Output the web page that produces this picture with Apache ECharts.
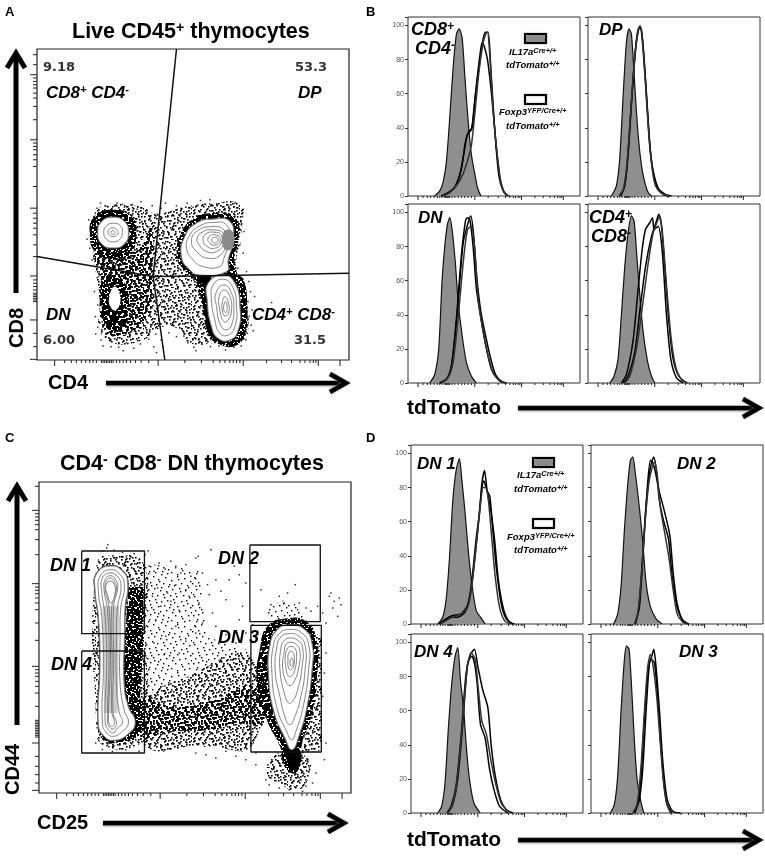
<!DOCTYPE html>
<html>
<head>
<meta charset="utf-8">
<title>Thymocyte tdTomato</title>
<style>html,body{margin:0;padding:0;background:#fff}#main{width:765px;height:856px}</style>
<script src="https://cdn.jsdelivr.net/npm/echarts@6/dist/echarts.min.js"></script>
</head>
<body>
<div id="main"></div>
<script>
// tick positions, channel units
var dotXMajor = [53, 363, 618, 843, 908];
var dotXMinor = [83, 103, 118, 133, 146, 158, 168, 178, 193, 198, 203, 208, 213, 218, 223, 228, 238, 248, 258, 268, 280, 295, 312, 335, 443, 493, 528, 548, 563, 578, 588, 598, 608, 688, 733, 763, 788, 803, 818, 828, 836];
var aYMajor = [855, 660, 455, 252, 120, 2];
var aYMinor = [915, 885, 845, 835, 825, 815, 800, 785, 760, 720, 650, 640, 630, 615, 600, 580, 520, 440, 425, 410, 395, 375, 345, 310, 240, 230, 220, 210, 200, 195, 190, 185, 180, 175, 80, 40];
var cYMajor = [848, 628, 380, 150, 8];
var cYMinor = [920, 838, 828, 818, 805, 790, 760, 715, 618, 608, 598, 585, 570, 550, 510, 458, 370, 360, 350, 335, 320, 300, 260, 218, 213, 208, 203, 198, 193, 188, 183, 178, 173, 168, 110, 80, 55, 30];
var histXMajor = [30, 200, 340, 465];
var histXMinor = [45, 58, 68, 78, 88, 95, 102, 110, 113, 116, 119, 122, 125, 132, 140, 150, 160, 170, 180, 190, 240, 270, 292, 305, 315, 322, 330, 335, 380, 405, 425, 438, 448, 455, 460];

// panel A, CD4 against CD8
var aGateV = [[418, 932], [348, 250], [383, 0]];
var aGateH = [[0, 310], [348, 250], [478, 252], [935, 260]];
var aCloudMid = [[173, 440], [228, 465], [308, 460], [358, 440], [448, 460], [528, 470], [608, 465], [613, 380], [598, 280], [623, 200], [633, 90], [608, 50], [528, 50], [458, 50], [428, 90], [378, 100], [318, 60], [228, 50], [188, 90], [188, 180], [178, 250], [168, 340]];
var aCloudLeft = [[175, 320], [300, 330], [340, 400], [345, 250], [330, 130], [240, 70], [195, 110], [190, 250]];
var aCloudDark = [[228, 450], [283, 430], [298, 380], [278, 320], [228, 305], [178, 320], [158, 380], [173, 430]];
var aCloudDark2 = [[233, 255], [268, 220], [273, 160], [253, 95], [218, 95], [193, 160], [193, 220]];
var aHalo = [[528, 440], [590, 430], [605, 370], [590, 300], [600, 260], [620, 240], [630, 160], [625, 90], [600, 45], [540, 50], [510, 90], [490, 190], [470, 245], [445, 265], [420, 310], [430, 375], [470, 425]];
var aNeck = [[430, 300], [480, 250], [505, 190], [510, 90], [540, 60], [530, 120], [520, 240], [470, 270]];
var aHoleDN = [[233, 220], [250, 185], [238, 150], [223, 155], [216, 185]];
var aCD8Rings = [
  [[228, 428], [262, 415], [274, 382], [262, 348], [228, 336], [194, 348], [182, 382], [194, 415]],
  [[228, 410], [250, 402], [256, 382], [248, 362], [228, 354], [208, 362], [200, 382], [208, 402]],
  [[228, 396], [240, 390], [243, 382], [238, 373], [226, 370], [216, 375], [213, 384], [218, 393]],
  [[228, 388], [234, 384], [232, 378], [224, 378], [221, 383]]
];
var aDPRings = [
  [[528, 422], [578, 415], [588, 360], [573, 300], [568, 265], [488, 255], [458, 270], [433, 310], [443, 370], [478, 410]],
  [[526, 412], [568, 405], [576, 360], [560, 305], [548, 280], [498, 280], [468, 300], [448, 335], [458, 375], [488, 402]],
  [[524, 400], [560, 390], [568, 355], [550, 315], [513, 305], [478, 325], [463, 355], [478, 385]],
  [[526, 390], [558, 380], [560, 350], [538, 325], [508, 325], [486, 345], [480, 365], [498, 385]],
  [[530, 383], [552, 375], [552, 350], [533, 335], [510, 340], [498, 358], [506, 378]],
  [[533, 375], [548, 368], [546, 352], [532, 344], [518, 350], [512, 362], [520, 373]],
  [[536, 368], [543, 362], [538, 352], [528, 352], [523, 362]]
];
var aCD4Rings = [
  [[558, 255], [593, 230], [608, 160], [603, 90], [578, 60], [543, 65], [523, 100], [510, 180], [513, 230]],
  [[558, 242], [586, 220], [598, 160], [593, 100], [573, 75], [548, 80], [533, 120], [523, 180], [528, 225]],
  [[560, 225], [583, 200], [590, 155], [583, 105], [568, 90], [550, 105], [538, 160], [536, 200]],
  [[561, 210], [578, 190], [583, 150], [573, 120], [560, 115], [548, 150], [546, 190]],
  [[563, 190], [574, 170], [574, 140], [563, 132], [555, 150], [556, 175]],
  [[565, 175], [570, 155], [565, 142], [559, 155]]
];
var aDPPatch = [[560, 385], [586, 385], [586, 335], [560, 335]];
var aDots = [[172, 430], [180, 455], [190, 470], [204, 462], [215, 448], [240, 470], [262, 458], [285, 466], [300, 452], [312, 474], [330, 448], [345, 462], [372, 455], [385, 470], [400, 444], [418, 462], [432, 450], [450, 470], [468, 458], [490, 478], [505, 466], [518, 480], [540, 462], [560, 472], [575, 460], [592, 470], [606, 462], [618, 452], [616, 430], [612, 405], [620, 385], [608, 345], [618, 320], [602, 275], [628, 265], [635, 235], [640, 205], [632, 175], [645, 150], [636, 130], [642, 105], [630, 80], [626, 60], [612, 42], [590, 38], [565, 30], [545, 42], [520, 40], [495, 48], [470, 38], [452, 52], [440, 72], [418, 70], [395, 82], [372, 60], [350, 40], [335, 62], [310, 48], [290, 35], [268, 52], [245, 38], [222, 40], [205, 68], [192, 60], [182, 98], [175, 130], [182, 165], [172, 205], [184, 250], [165, 300], [158, 335], [150, 362], [165, 408], [155, 420], [703, 172], [648, 88], [652, 190], [176, 78], [198, 42], [258, 28], [358, 22], [378, 40], [476, 28], [356, 78], [330, 84]];

// panel C, CD25 against CD44
var cGates = [
  [[128, 726], [316, 726], [316, 478], [128, 478], [128, 726]],
  [[128, 426], [316, 426], [316, 120], [128, 120], [128, 426]],
  [[632, 744], [843, 744], [843, 514], [632, 514], [632, 744]],
  [[635, 503], [846, 503], [846, 123], [635, 123], [635, 503]]
];
var cCloudLight = [[323, 688], [483, 668], [503, 468], [633, 428], [633, 138], [313, 138], [313, 688]];
var cCloudLight2 = [[713, 118], [803, 108], [808, 48], [773, 8], [723, 28], [683, 58]];
var cCloudLight3 = [[683, 528], [743, 578], [803, 518], [833, 498]];
var cCloudLight4 = [[813, 488], [848, 468], [848, 128], [783, 118], [833, 348]];
var cCloudMid = [[313, 268], [443, 348], [633, 408], [643, 148], [483, 143], [323, 138]];
var cCloudMid2 = [[173, 688], [233, 713], [313, 688], [320, 488], [320, 188], [283, 138], [193, 143], [173, 188]];
var cCloudDark = [[313, 288], [403, 258], [523, 278], [643, 318], [673, 208], [603, 208], [503, 188], [383, 183], [313, 168]];
var cCloudDark2 = [[268, 618], [313, 618], [313, 468], [303, 288], [323, 198], [283, 158], [213, 148], [183, 168], [263, 208], [253, 388]];
var cCloudDark3 = [[683, 498], [733, 523], [803, 513], [833, 448], [833, 348], [818, 238], [788, 148], [783, 88], [763, 58], [733, 88], [723, 138], [683, 218], [653, 328], [663, 438]];
var cSolid = [[738, 133], [778, 133], [783, 88], [763, 68], [743, 98]];
var cColumnRings = [
  [[213, 681], [253, 663], [266, 623], [258, 558], [256, 468], [255, 328], [268, 258], [288, 213], [268, 178], [223, 158], [193, 173], [178, 208], [183, 388], [178, 528], [168, 608], [173, 658]],
  [[213, 670], [243, 655], [256, 620], [245, 555], [243, 460], [243, 330], [255, 250], [268, 210], [250, 185], [223, 170], [203, 180], [190, 210], [193, 388], [188, 530], [178, 605], [183, 650]],
  [[213, 660], [236, 648], [246, 620], [235, 555], [232, 460], [232, 330], [240, 245], [250, 210], [235, 195], [222, 180], [208, 190], [198, 215], [203, 390], [198, 530], [188, 605], [190, 645]],
  [[213, 652], [230, 640], [236, 615], [224, 560], [224, 400], [222, 240], [232, 210], [222, 192], [210, 200], [205, 220], [210, 400], [205, 550], [195, 610], [198, 640]],
  [[213, 645], [226, 635], [232, 612], [218, 555], [219, 400], [218, 245], [226, 212], [220, 200], [212, 205], [208, 225], [214, 400], [210, 555], [198, 612], [202, 635]]
];
var cColumnFill = [[190, 560], [240, 560], [236, 240], [196, 240]];
var cColumnHole = [[213, 636], [226, 625], [228, 600], [216, 570], [205, 595], [200, 620]];
var cDN3Rings = [
  [[743, 503], [793, 493], [818, 448], [818, 368], [803, 258], [778, 168], [758, 130], [738, 163], [703, 248], [688, 358], [693, 448], [713, 488]],
  [[745, 490], [785, 482], [808, 445], [808, 370], [793, 265], [770, 185], [757, 160], [742, 185], [713, 255], [698, 360], [703, 445], [720, 478]],
  [[748, 478], [780, 470], [798, 440], [798, 375], [785, 290], [765, 225], [752, 205], [738, 225], [722, 290], [708, 365], [713, 440], [725, 468]],
  [[750, 465], [775, 458], [790, 435], [788, 375], [775, 310], [760, 275], [748, 270], [735, 300], [722, 370], [725, 435], [733, 455]],
  [[752, 452], [772, 445], [782, 425], [778, 375], [765, 335], [752, 322], [740, 335], [730, 380], [735, 425], [740, 445]],
  [[754, 440], [768, 432], [772, 410], [768, 375], [758, 352], [748, 350], [740, 375], [738, 410], [744, 432]],
  [[756, 425], [764, 415], [764, 385], [756, 370], [748, 375], [746, 400], [748, 420]],
  [[758, 405], [762, 390], [756, 380], [752, 392]]
];
var cDots = [[206, 745], [203, 735], [190, 725], [225, 728], [250, 722], [262, 708], [285, 718], [300, 700], [318, 715], [327, 727], [330, 680], [345, 665], [360, 690], [378, 672], [395, 695], [410, 680], [425, 660], [440, 685], [455, 650], [470, 705], [477, 710], [515, 730], [490, 660], [530, 640], [505, 625], [470, 620], [440, 610], [410, 625], [385, 600], [355, 615], [340, 590], [365, 560], [395, 575], [420, 548], [450, 590], [480, 570], [510, 595], [545, 605], [570, 640], [585, 680], [600, 655], [620, 630], [560, 580], [520, 540], [490, 510], [530, 500], [560, 475], [600, 520], [590, 450], [620, 480], [610, 560], [640, 505], [665, 610], [695, 565], [720, 590], [735, 570], [745, 600], [768, 625], [780, 570], [800, 555], [815, 545], [835, 560], [870, 590], [875, 600], [885, 575], [900, 585], [905, 565], [880, 555], [850, 540], [860, 510], [895, 530], [840, 440], [860, 420], [855, 360], [850, 290], [845, 220], [860, 150], [855, 100], [650, 120], [620, 100], [590, 110], [560, 125], [530, 105], [500, 115], [470, 120], [650, 85], [680, 40], [700, 70], [720, 15], [750, 10], [790, 5], [820, 30], [830, 60], [810, 75], [800, 20], [700, 95], [690, 25], [760, 30], [780, 45], [740, 40], [170, 150], [190, 130], [220, 125], [260, 130], [300, 125], [175, 250], [170, 420], [350, 520], [380, 470], [410, 500], [440, 455], [470, 480], [345, 450], [375, 415], [420, 420]];

// histograms, each with the filled control and three overlaid samples
var bCD8Fill = [[80, 0], [95, 3], [105, 8], [115, 20], [125, 46], [135, 75], [145, 95], [153, 98], [162, 93], [170, 71], [180, 44], [190, 24], [200, 13], [208, 5], [218, 0]];
var bCD8Lines = [
  [[100, 0], [120, 2], [140, 5], [155, 12], [170, 28], [178, 36], [190, 39], [200, 56], [215, 79], [225, 92], [232, 96], [240, 96], [248, 75], [260, 38], [272, 12], [285, 3], [300, 0]],
  [[100, 0], [122, 2], [142, 6], [160, 16], [172, 32], [182, 38], [192, 40], [202, 60], [215, 82], [222, 90], [228, 88], [238, 80], [250, 60], [262, 34], [275, 11], [288, 2], [298, 0]],
  [[105, 0], [125, 2], [145, 6], [165, 13], [180, 22], [190, 30], [200, 48], [212, 72], [225, 90], [233, 95], [238, 96], [245, 82], [255, 50], [265, 28], [278, 8], [292, 1], [305, 0]]
];
var bDPFill = [[70, 0], [85, 6], [95, 22], [105, 58], [115, 90], [123, 98], [130, 95], [140, 65], [150, 36], [160, 18], [170, 8], [180, 2], [190, 0]];
var bDPLines = [
  [[95, 0], [108, 5], [118, 20], [130, 55], [142, 85], [152, 98], [158, 99], [165, 88], [175, 60], [185, 30], [195, 14], [207, 5], [225, 1], [245, 0]],
  [[98, 0], [110, 6], [120, 24], [132, 60], [144, 90], [153, 99], [160, 97], [168, 80], [178, 50], [188, 24], [198, 12], [212, 4], [232, 1], [250, 0]],
  [[93, 0], [106, 4], [116, 18], [128, 50], [140, 82], [150, 97], [156, 100], [163, 90], [172, 66], [182, 36], [192, 16], [202, 6], [218, 2], [240, 0]]
];
var bDNFill = [[65, 0], [80, 5], [92, 20], [102, 60], [110, 80], [118, 93], [125, 97], [132, 90], [142, 70], [150, 48], [162, 28], [175, 12], [190, 4], [205, 0]];
var bDNLines = [
  [[95, 0], [115, 2], [130, 10], [145, 38], [160, 75], [172, 95], [178, 97], [185, 96], [195, 80], [205, 55], [220, 36], [235, 20], [250, 8], [270, 2], [290, 0]],
  [[95, 0], [118, 3], [132, 12], [148, 42], [165, 82], [180, 94], [188, 98], [196, 88], [206, 62], [218, 42], [232, 28], [248, 14], [262, 5], [280, 1], [295, 0]],
  [[100, 0], [120, 3], [135, 12], [150, 38], [165, 70], [178, 90], [190, 92], [200, 78], [210, 50], [225, 30], [240, 16], [255, 6], [275, 1], [290, 0]]
];
var bCD4Fill = [[65, 0], [78, 4], [90, 14], [100, 40], [110, 68], [120, 88], [130, 98], [138, 95], [146, 75], [155, 52], [165, 30], [178, 13], [190, 4], [200, 0]];
var bCD4Lines = [
  [[100, 0], [115, 5], [135, 25], [150, 55], [162, 78], [172, 90], [185, 94], [193, 97], [198, 90], [210, 92], [222, 78], [235, 40], [248, 14], [265, 3], [285, 0]],
  [[105, 0], [120, 4], [140, 18], [155, 42], [172, 68], [190, 86], [205, 95], [212, 99], [220, 92], [230, 68], [242, 36], [255, 14], [272, 4], [295, 0]],
  [[110, 0], [125, 4], [145, 20], [165, 48], [180, 70], [195, 88], [206, 94], [214, 98], [222, 90], [234, 60], [248, 28], [262, 10], [280, 2], [300, 0]]
];
var dDN1Fill = [[80, 0], [95, 4], [105, 14], [115, 38], [125, 72], [135, 90], [145, 97], [152, 85], [162, 65], [172, 42], [182, 24], [195, 8], [208, 4], [222, 0]];
var dDN1Lines = [
  [[85, 0], [100, 2], [115, 4], [140, 4], [165, 8], [180, 22], [195, 50], [205, 65], [212, 82], [220, 90], [228, 78], [238, 68], [250, 50], [262, 25], [278, 8], [295, 1], [310, 0]],
  [[85, 0], [105, 3], [125, 5], [150, 6], [172, 12], [185, 28], [200, 55], [210, 76], [218, 84], [228, 78], [236, 75], [245, 55], [256, 32], [270, 12], [285, 3], [305, 0]],
  [[88, 0], [105, 2], [125, 4], [150, 6], [170, 10], [182, 22], [196, 48], [208, 70], [216, 80], [224, 80], [232, 72], [242, 50], [252, 28], [265, 10], [280, 2], [300, 0]]
];
var dDN2Fill = [[68, 0], [80, 6], [90, 22], [100, 55], [110, 82], [118, 96], [125, 98], [133, 88], [145, 68], [155, 48], [165, 24], [178, 10], [195, 3], [213, 0]];
var dDN2Lines = [
  [[131, 0], [142, 8], [152, 32], [165, 70], [178, 92], [188, 98], [196, 90], [205, 72], [218, 60], [232, 50], [242, 30], [255, 12], [272, 3], [290, 0]],
  [[133, 0], [145, 10], [155, 38], [168, 78], [178, 96], [186, 94], [194, 88], [204, 78], [220, 66], [236, 52], [246, 30], [258, 12], [275, 2], [293, 0]],
  [[130, 0], [140, 6], [150, 26], [162, 60], [175, 85], [190, 95], [198, 88], [208, 68], [222, 52], [234, 38], [246, 20], [258, 6], [275, 1], [288, 0]]
];
var dDN4Fill = [[80, 0], [92, 4], [102, 18], [112, 50], [122, 76], [132, 92], [140, 97], [148, 78], [158, 60], [166, 38], [175, 20], [188, 6], [207, 0]];
var dDN4Lines = [
  [[107, 0], [120, 4], [135, 16], [150, 45], [165, 82], [178, 93], [190, 96], [200, 86], [215, 72], [230, 62], [240, 40], [252, 22], [268, 8], [285, 2], [305, 0]],
  [[110, 0], [125, 5], [140, 20], [155, 52], [170, 88], [182, 92], [190, 88], [198, 76], [208, 52], [222, 44], [235, 26], [248, 14], [265, 4], [290, 0]],
  [[108, 0], [122, 4], [136, 16], [152, 48], [168, 85], [180, 94], [192, 90], [202, 72], [212, 54], [226, 46], [240, 30], [255, 16], [272, 5], [298, 0]]
];
var dDN3Fill = [[58, 0], [70, 5], [80, 22], [90, 60], [100, 90], [106, 98], [114, 96], [122, 72], [130, 42], [138, 20], [148, 8], [158, 0]];
var dDN3Lines = [
  [[131, 0], [145, 8], [155, 26], [165, 60], [175, 88], [182, 92], [188, 96], [195, 85], [205, 60], [215, 30], [228, 8], [245, 1], [268, 0]],
  [[128, 0], [140, 6], [150, 22], [162, 62], [172, 84], [180, 90], [190, 88], [200, 66], [208, 42], [218, 18], [228, 5], [242, 0]],
  [[125, 0], [138, 5], [150, 28], [160, 60], [170, 86], [178, 93], [186, 86], [196, 70], [206, 45], [216, 20], [226, 6], [238, 0]]
];
var histPctTicks = [0, 20, 40, 60, 80, 100];

// texture tile for the dense parts of the dot clouds
var speckle = [[2, 1], [3, 2], [9, 0], [14, 3], [15, 5], [21, 1], [27, 4], [33, 0], [34, 3], [40, 2], [46, 5], [0, 7], [6, 6], [7, 9], [12, 8], [19, 7], [24, 10], [25, 8], [30, 9], [37, 7], [43, 9], [44, 11], [4, 13], [10, 12], [16, 14], [17, 11], [22, 15], [28, 13], [35, 12], [36, 15], [41, 14], [47, 16], [1, 18], [2, 20], [8, 17], [13, 19], [19, 18], [20, 21], [26, 19], [31, 17], [32, 20], [39, 19], [45, 21], [5, 24], [11, 23], [12, 26], [17, 25], [23, 24], [29, 23], [30, 26], [37, 25], [42, 24], [43, 27], [0, 29], [6, 28], [7, 31], [14, 30], [20, 29], [25, 31], [26, 28], [33, 30], [39, 29], [46, 31], [3, 34], [9, 33], [10, 36], [16, 35], [22, 34], [28, 36], [29, 33], [35, 35], [41, 34], [47, 36], [1, 39], [6, 38], [13, 40], [14, 37], [19, 39], [24, 41], [31, 39], [37, 40], [38, 42], [44, 39], [4, 45], [5, 43], [11, 44], [17, 46], [18, 43], [23, 45], [27, 44], [33, 46], [40, 45], [45, 44]];

function makeTile(shifts, size) {
	var c = document.createElement('canvas');
	c.width = 48;
	c.height = 48;
	var g = c.getContext('2d');
	g.fillStyle = '#000';
	shifts.forEach(function(s) {
		speckle.forEach(function(d) {
			g.fillRect((d[0] + s[0]) % 48, (d[1] + s[1]) % 48, size, size);
		});
	});
	return {image: c, repeat: 'repeat'};
}
var tileLight = makeTile([[0, 0]], 1.4);
var tileMid = makeTile([[0, 0], [17, 11], [31, 26]], 1.6);
var tileDark = makeTile([[0, 0], [17, 11], [31, 26], [8, 37], [40, 19], [24, 3]], 1.8);
var tileDense = makeTile([[0, 0], [17, 11], [31, 26], [8, 37], [40, 19], [24, 3], [12, 29], [36, 8], [21, 42], [5, 16]], 2);

var grids = [], xAxes = [], yAxes = [], series = [], graphics = [];

function addDotPanel(left, top, width, height, xMax, yMax) {
	var i = grids.length;
	grids.push({left: left, top: top, width: width, height: height, show: true, borderColor: '#222', borderWidth: 1.2, backgroundColor: '#fff'});
	xAxes.push({gridIndex: i, type: 'value', min: 0, max: xMax, show: false});
	yAxes.push({gridIndex: i, type: 'value', min: 0, max: yMax, show: false});
	return i;
}

function addHistPanel(left, top, labels) {
	var i = grids.length;
	grids.push({left: left, top: top, width: 172, height: 179, show: true, borderColor: '#333', borderWidth: 1, backgroundColor: '#fff'});
	xAxes.push({gridIndex: i, type: 'value', min: 0, max: 515, show: false});
	yAxes.push({
		gridIndex: i, type: 'value', min: 0, max: 105, interval: 20,
		axisLine: {show: false}, splitLine: {show: false},
		axisTick: {show: true, length: 3, lineStyle: {color: '#333'}},
		axisLabel: {show: labels, fontSize: 7, color: '#555', margin: 4, fontFamily: 'Liberation Sans',
			formatter: function(v) { return histPctTicks.indexOf(v) >= 0 ? v : ''; }}
	});
	return i;
}

function poly(i, pts, fill, stroke, width, smooth) {
	series.push({
		type: 'custom', coordinateSystem: 'cartesian2d', xAxisIndex: i, yAxisIndex: i,
		silent: true, data: pts,
		renderItem: function(params, api) {
			if (params.dataIndex !== 0) { return; }
			return {
				type: 'polygon',
				shape: {points: pts.map(function(p) { return api.coord(p); }), smooth: smooth === undefined ? 0.5 : smooth},
				style: {fill: fill, stroke: stroke, lineWidth: width}
			};
		}
	});
}

function rings(i, list, width) {
	// dark rim under the outer contour, as the dots pile up against it
	poly(i, list[0], 'none', '#222', 1.8);
	list.forEach(function(r, k) {
		poly(i, r, k === 0 ? '#fff' : 'none', '#777', width || 0.9);
	});
}

function gateLine(i, pts) {
	series.push({type: 'line', xAxisIndex: i, yAxisIndex: i, data: pts, symbol: 'none', silent: true, lineStyle: {color: '#111', width: 1.5}});
}

function dots(i, pts) {
	series.push({type: 'scatter', xAxisIndex: i, yAxisIndex: i, data: pts, symbol: 'rect', symbolSize: 1.5, silent: true, itemStyle: {color: '#000'}});
}

function ticks(i, list, isX, len) {
	series.push({
		type: 'custom', coordinateSystem: 'cartesian2d', xAxisIndex: i, yAxisIndex: i, silent: true,
		data: list.map(function(v) { return isX ? [v, 0] : [0, v]; }),
		renderItem: function(params, api) {
			var p = api.coord([api.value(0), api.value(1)]);
			return {
				type: 'line',
				shape: isX ? {x1: p[0], y1: p[1], x2: p[0], y2: p[1] + len} : {x1: p[0], y1: p[1], x2: p[0] - len, y2: p[1]},
				style: {stroke: '#222', lineWidth: 1}
			};
		}
	});
}

function histCurves(i, fill, lines) {
	series.push({
		type: 'line', xAxisIndex: i, yAxisIndex: i, data: fill, symbol: 'none', smooth: 0.25, silent: true,
		lineStyle: {color: '#111', width: 1.2}, areaStyle: {color: '#8f8f8f', opacity: 1}
	});
	lines.forEach(function(l, k) {
		series.push({
			type: 'line', xAxisIndex: i, yAxisIndex: i, data: l, symbol: 'none', smooth: 0.25, silent: true,
			lineStyle: {color: k === 2 ? '#333' : '#000', width: 1.5}
		});
	});
	ticks(i, histXMajor, true, 4);
	ticks(i, histXMinor, true, 2);
}

function label(x, y, text, size, opt) {
	opt = opt || {};
	var weight = opt.weight || 'bold', style = opt.style || 'normal', font = opt.font || 'Liberation Sans', color = opt.color || '#000';
	graphics.push({
		type: 'text', x: x, y: y, rotation: opt.rotation || 0, z: 100, silent: true,
		style: {
			text: '{b|' + text.replace(/\^(.)/g, '}{s|$1}{b|') + '}',
			align: opt.align || 'left', verticalAlign: 'middle',
			rich: {
				b: {fontSize: size, fontWeight: weight, fontStyle: style, fontFamily: font, fill: color, color: color},
				s: {fontSize: size * 0.66, fontWeight: weight, fontStyle: style, fontFamily: font, fill: color, color: color, verticalAlign: 'top'}
			}
		}
	});
}

function sup(x, y, base, upper, size) {
	// base text with a longer raised tail, eg Cre+/+
	graphics.push({
		type: 'text', x: x, y: y, z: 100, silent: true,
		style: {
			text: '{b|' + base + '}{s|' + upper + '}',
			align: 'left', verticalAlign: 'middle',
			rich: {
				b: {fontSize: size, fontWeight: 'bold', fontStyle: 'italic', fontFamily: 'Liberation Sans', fill: '#000', color: '#000'},
				s: {fontSize: size * 0.78, fontWeight: 'bold', fontStyle: 'italic', fontFamily: 'Liberation Sans', fill: '#000', color: '#000', verticalAlign: 'top'}
			}
		}
	});
}

function arrowRight(x1, x2, y, w) {
	graphics.push({type: 'line', z: 90, silent: true, shape: {x1: x1, y1: y, x2: x2 - 3, y2: y}, style: {stroke: '#000', lineWidth: w, shadowBlur: 2, shadowColor: '#888', shadowOffsetY: 1}});
	graphics.push({type: 'polyline', z: 90, silent: true, shape: {points: [[x2 - 17, y - 9], [x2 - 1, y], [x2 - 17, y + 9]]}, style: {stroke: '#000', fill: 'none', lineWidth: w, shadowBlur: 2, shadowColor: '#888'}});
}

function arrowUp(x, y1, y2, w) {
	graphics.push({type: 'line', z: 90, silent: true, shape: {x1: x, y1: y1, x2: x, y2: y2 + 3}, style: {stroke: '#000', lineWidth: w}});
	graphics.push({type: 'polyline', z: 90, silent: true, shape: {points: [[x - 9, y2 + 16], [x, y2 + 1], [x + 9, y2 + 16]]}, style: {stroke: '#000', fill: 'none', lineWidth: w}});
}

function swatch(x, y, fill) {
	graphics.push({type: 'rect', z: 100, silent: true, shape: {x: x, y: y, width: 21, height: 9}, style: {fill: fill, stroke: '#000', lineWidth: 2, shadowBlur: 2, shadowColor: '#999'}});
}

// panel A
var pA = addDotPanel(37, 49, 312, 311, 935, 932);
poly(pA, aCloudMid, tileMid, 'none', 0);
poly(pA, aCloudLeft, tileDark, 'none', 0);
poly(pA, aCloudDark, tileDense, 'none', 0);
poly(pA, aCloudDark2, tileDense, 'none', 0);
poly(pA, aHalo, tileDense, 'none', 0);
poly(pA, aNeck, '#000', 'none', 0);
dots(pA, aDots);
poly(pA, aHoleDN, '#fff', 'none', 0);
rings(pA, aCD8Rings);
rings(pA, aDPRings);
rings(pA, aCD4Rings);
poly(pA, aDPPatch, '#8a8a8a', 'none', 0);
gateLine(pA, aGateV);
gateLine(pA, aGateH);
ticks(pA, dotXMajor, true, 6);
ticks(pA, dotXMinor, true, 3);
ticks(pA, aYMajor, false, 7);
ticks(pA, aYMinor, false, 4);

// panel C
var pC = addDotPanel(39, 482, 312, 311, 935, 933);
poly(pC, cCloudLight, tileLight, 'none', 0, 0);
poly(pC, cCloudLight2, tileMid, 'none', 0);
poly(pC, cCloudLight3, tileLight, 'none', 0);
poly(pC, cCloudLight4, tileMid, 'none', 0, 0);
poly(pC, cCloudMid, tileMid, 'none', 0);
poly(pC, cCloudMid2, tileMid, 'none', 0);
poly(pC, cCloudDark, tileDark, 'none', 0);
poly(pC, cCloudDark2, tileDense, 'none', 0, 0);
poly(pC, cCloudDark3, tileDense, 'none', 0);
poly(pC, cSolid, '#000', 'none', 0);
dots(pC, cDots);
rings(pC, cColumnRings);
poly(pC, cColumnFill, 'rgba(110,110,110,0.35)', 'none', 0, 0);
poly(pC, cColumnHole, '#fff', '#777', 1);
rings(pC, cDN3Rings);
cGates.forEach(function(g) { series.push({type: 'line', xAxisIndex: pC, yAxisIndex: pC, data: g, symbol: 'none', silent: true, lineStyle: {color: '#111', width: 1.3}}); });
ticks(pC, dotXMajor, true, 6);
ticks(pC, dotXMinor, true, 3);
ticks(pC, cYMajor, false, 7);
ticks(pC, cYMinor, false, 4);

// panels B and D
histCurves(addHistPanel(408, 17, true), bCD8Fill, bCD8Lines);
histCurves(addHistPanel(588, 17, false), bDPFill, bDPLines);
histCurves(addHistPanel(408, 204, true), bDNFill, bDNLines);
histCurves(addHistPanel(588, 204, false), bCD4Fill, bCD4Lines);
histCurves(addHistPanel(411, 445, true), dDN1Fill, dDN1Lines);
histCurves(addHistPanel(591, 445, false), dDN2Fill, dDN2Lines);
histCurves(addHistPanel(411, 634, true), dDN4Fill, dDN4Lines);
histCurves(addHistPanel(591, 634, false), dDN3Fill, dDN3Lines);

// letters and titles
label(5, 12, 'A', 13);
label(366, 12, 'B', 13);
label(5, 438, 'C', 13);
label(366, 438, 'D', 13);
label(72, 32, 'Live CD45^+ thymocytes', 21.5);
label(60, 464, 'CD4^- CD8^- DN thymocytes', 21.5);

// panel A text
var ibold = {style: 'italic'};
var countFont = {font: 'DejaVu Sans', color: '#333'};
label(43, 68, '9.18', 13, countFont);
label(295, 68, '53.3', 13, countFont);
label(43, 341, '6.00', 13, countFont);
label(294, 341, '31.5', 13, countFont);
label(46, 93, 'CD8^+ CD4^-', 17, ibold);
label(298, 93, 'DP', 17, ibold);
label(46, 315, 'DN', 17, ibold);
label(252, 315, 'CD4^+ CD8^-', 17, ibold);
label(48, 383, 'CD4', 20);
label(17, 348, 'CD8', 20, {rotation: Math.PI / 2});
arrowUp(16, 293, 52, 5);
arrowRight(106, 347, 383, 4.5);

// panel C text
label(50, 566, 'DN 1', 18, ibold);
label(51, 665, 'DN 4', 18, ibold);
label(218, 559, 'DN 2', 18, ibold);
label(218, 638, 'DN 3', 18, ibold);
label(37, 823, 'CD25', 20);
label(13, 795, 'CD44', 20, {rotation: Math.PI / 2});
arrowUp(17, 725, 485, 5);
arrowRight(103, 345, 823, 4.5);

// panel B text
label(411, 30, 'CD8^+', 18, ibold);
label(415, 49, 'CD4^-', 18, ibold);
label(599, 30, 'DP', 17, ibold);
label(418, 218, 'DN', 17, ibold);
label(589, 218, 'CD4^+', 18, ibold);
label(591, 237, 'CD8^-', 18, ibold);
swatch(525, 34, '#8a8a8a');
swatch(525, 95, '#fff');
sup(509, 52, 'IL17a', 'Cre+/+', 9.5);
sup(506, 65, 'tdTomato', '+/+', 9.5);
sup(499, 112, 'Foxp3', 'YFP/Cre+/+', 9.5);
sup(506, 126, 'tdTomato', '+/+', 9.5);
label(407, 408, 'tdTomato', 21);
arrowRight(518, 760, 408, 4.5);

// panel D text
label(417, 464, 'DN 1', 17, ibold);
label(677, 464, 'DN 2', 17, ibold);
label(414, 652, 'DN 4', 17, ibold);
label(679, 652, 'DN 3', 17, ibold);
swatch(533, 458, '#8a8a8a');
swatch(533, 519, '#fff');
sup(517, 475, 'IL17a', 'Cre+/+', 9.5);
sup(514, 489, 'tdTomato', '+/+', 9.5);
sup(507, 537, 'Foxp3', 'YFP/Cre+/+', 9.5);
sup(514, 550, 'tdTomato', '+/+', 9.5);
label(407, 840, 'tdTomato', 21);
arrowRight(518, 760, 840, 4.5);

var myChart = echarts.init(document.getElementById('main'), null, {renderer: 'canvas'});
myChart.setOption({
	animation: false,
	backgroundColor: '#fff',
	grid: grids,
	xAxis: xAxes,
	yAxis: yAxes,
	series: series,
	graphic: {elements: graphics}
});
</script>
</body>
</html>
